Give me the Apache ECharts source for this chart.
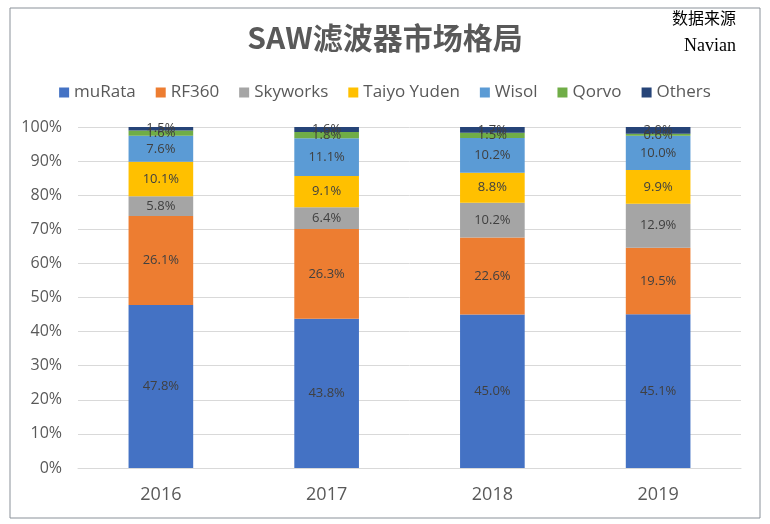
<!DOCTYPE html>
<html>
<head>
<meta charset="utf-8">
<script src="https://cdn.jsdelivr.net/npm/echarts@6/dist/echarts.min.js"></script>
<style>
  html, body { margin: 0; padding: 0; background: #fff; }
  #main { width: 770px; height: 524px; }
</style>
</head>
<body>
<div id="main"></div>
<script>
// 年份
const years = ['2016', '2017', '2018', '2019'];
// 各厂商份额 (%)
const muRata = [47.8, 43.8, 45.0, 45.1];
const rf360 = [26.1, 26.3, 22.6, 19.5];
const skyworks = [5.8, 6.4, 10.2, 12.9];
const taiyoYuden = [10.1, 9.1, 8.8, 9.9];
const wisol = [7.6, 11.1, 10.2, 10.0];
const qorvo = [1.6, 1.8, 1.5, 0.6];
const others = [1.5, 1.6, 1.7, 2.0];

const seriesNames = ['muRata', 'RF360', 'Skyworks', 'Taiyo Yuden', 'Wisol', 'Qorvo', 'Others'];
const seriesData = [muRata, rf360, skyworks, taiyoYuden, wisol, qorvo, others];
const colors = ['#4472C4', '#ED7D31', '#A5A5A5', '#FFC000', '#5B9BD5', '#70AD47', '#264478'];

let myChart = echarts.init(document.getElementById('main'));

let seriesArr = seriesNames.map(function (name, i) {
  return {
    name: name,
    type: 'bar',
    stack: 'total',
    barWidth: '39%',
    data: seriesData[i],
    itemStyle: { color: colors[i] },
    label: {
      show: true,
      position: 'inside',
      color: '#404040',
      fontSize: 13,
      fontFamily: 'Open Sans',
      formatter: function (p) { return p.value.toFixed(1) + '%'; }
    }
  };
});

let option = {
  animation: false,
  graphic: [
    {
      type: 'rect',
      shape: { x: 10, y: 8, width: 750, height: 510 },
      style: { fill: 'none', stroke: '#8a9199', lineWidth: 1 },
      silent: true
    },
    {
      type: 'text',
      left: 672, top: 10,
      style: { text: '数据来源', font: '16px "Noto Sans CJK SC", serif', fill: '#000' }
    },
    {
      type: 'text',
      left: 684, top: 37,
      style: { text: 'Navian', font: '18px "Liberation Serif", serif', fill: '#000' }
    }
  ],
  title: {
    text: 'SAW滤波器市场格局',
    left: 'center',
    top: 18,
    textStyle: {
      fontSize: 30,
      fontWeight: 'bold',
      color: '#595959',
      fontFamily: '"Noto Sans CJK SC", "Open Sans", sans-serif'
    }
  },
  legend: {
    top: 79,
    left: 'center',
    itemWidth: 10,
    itemHeight: 10,
    itemGap: 20,
    icon: 'rect',
    textStyle: { fontSize: 17, color: '#595959', fontFamily: 'Open Sans' },
    data: seriesNames
  },
  grid: { left: 78, right: 29, top: 127, bottom: 56 },
  xAxis: {
    type: 'category',
    data: years,
    axisLine: { lineStyle: { color: '#d9d9d9' } },
    axisTick: { show: false },
    axisLabel: { fontSize: 18, color: '#595959', margin: 18, fontFamily: 'Open Sans' }
  },
  yAxis: {
    type: 'value',
    min: 0,
    max: 100,
    interval: 10,
    axisLine: { show: false },
    axisTick: { show: false },
    splitLine: { lineStyle: { color: '#d9d9d9' } },
    axisLabel: { formatter: '{value}%', fontSize: 16, color: '#595959', margin: 16, fontFamily: 'Open Sans' }
  },
  series: seriesArr
};

myChart.setOption(option);
</script>
</body>
</html>
